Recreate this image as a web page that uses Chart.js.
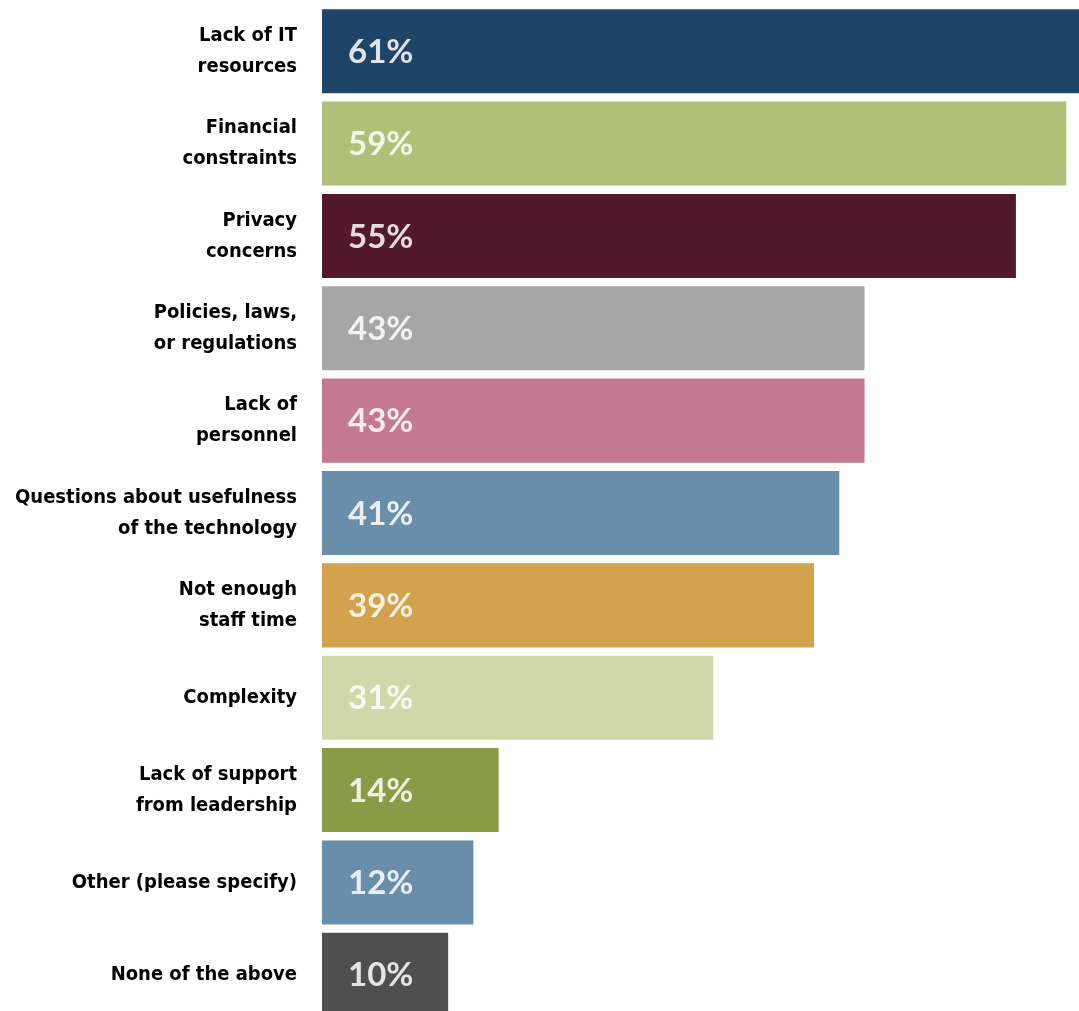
<!DOCTYPE html>
<html>
<head>
<meta charset="utf-8">
<script src="https://cdn.jsdelivr.net/npm/chart.js@4.4.2/dist/chart.umd.min.js"></script>
<style>
  html, body { margin: 0; padding: 0; background: #fff; overflow: hidden; }
  #wrap { position: relative; width: 1079px; height: 1021px; }
</style>
</head>
<body>
<div id="wrap"><canvas id="barriers"></canvas></div>
<script>
// Categories (multi-line labels) and values in percent
const categories = [
  ['Lack of IT', 'resources'],
  ['Financial', 'constraints'],
  ['Privacy', 'concerns'],
  ['Policies, laws,', 'or regulations'],
  ['Lack of', 'personnel'],
  ['Questions about usefulness', 'of the technology'],
  ['Not enough', 'staff time'],
  'Complexity',
  ['Lack of support', 'from leadership'],
  'Other (please specify)',
  'None of the above'
];
const values = [61, 59, 55, 43, 43, 41, 39, 31, 14, 12, 10];
const barColors = [
  '#1e4468', '#b0c077', '#52182b', '#a6a6a6', '#c57891', '#688ea9',
  '#d2a34c', '#d0d8aa', '#8b9a45', '#688ea9', '#4f4f4f'
];

// Draws the "NN%" value just inside the start of each bar
const valueLabels = {
  id: 'valueLabels',
  afterDatasetsDraw(chart) {
    const ctx = chart.ctx;
    const meta = chart.getDatasetMeta(0);
    ctx.save();
    ctx.font = 'bold 33px Lato, "Open Sans", sans-serif';
    ctx.fillStyle = 'rgba(255,255,255,0.85)';
    ctx.textAlign = 'left';
    ctx.textBaseline = 'middle';
    meta.data.forEach((bar, i) => {
      ctx.fillText(values[i] + '%', bar.base + 26, bar.y + 1);
    });
    ctx.restore();
  }
};

new Chart(document.getElementById('barriers'), {
  type: 'bar',
  data: {
    labels: categories,
    datasets: [{
      data: values,
      backgroundColor: barColors,
      borderWidth: 0,
      barPercentage: 0.91,
      categoryPercentage: 1
    }]
  },
  options: {
    indexAxis: 'y',
    responsive: true,
    maintainAspectRatio: false,
    animation: false,
    layout: {padding: {top: 5, right: 0, bottom: 0, left: 0}},
    plugins: {
      legend: {display: false},
      tooltip: {enabled: false}
    },
    scales: {
      x: {
        display: false,
        min: 0,
        max: 60
      },
      y: {
        afterFit(scale) {
          scale.width = 322;
          // labels sit inside their category band, no extra room needed
          scale.paddingTop = 0;
          scale.paddingBottom = 0;
        },
        grid: {display: false, drawTicks: false},
        border: {display: false},
        ticks: {
          padding: 25,
          color: '#000',
          font: {family: '"DejaVu Sans Condensed", "Liberation Sans Narrow", sans-serif', size: 20, weight: 'bold', lineHeight: 1.55}
        }
      }
    }
  },
  plugins: [valueLabels]
});
</script>
</body>
</html>
